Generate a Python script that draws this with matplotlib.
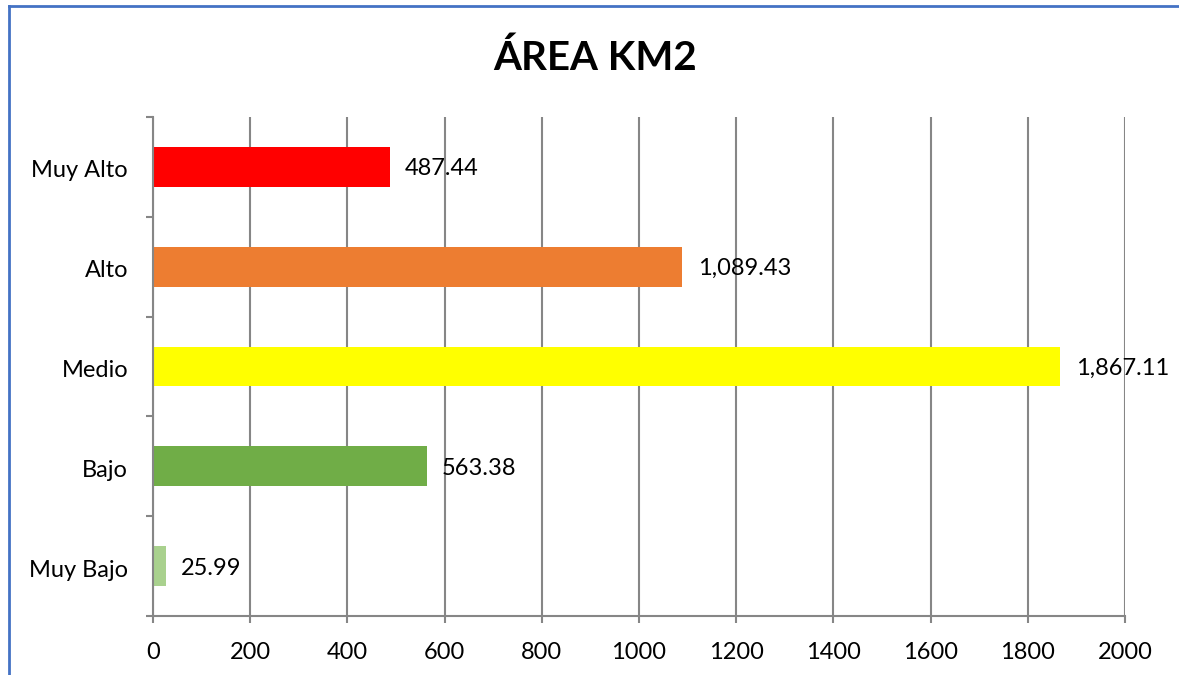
import matplotlib
matplotlib.use("Agg")
import matplotlib.pyplot as plt
from matplotlib.lines import Line2D
from matplotlib.transforms import offset_copy

categories = ["Muy Bajo", "Bajo", "Medio", "Alto", "Muy Alto"]
areas = [25.99, 563.38, 1867.11, 1089.43, 487.44]
bar_colors = ["#A9D18E", "#70AD47", "#FFFF00", "#ED7D31", "#FF0000"]
x_ticks = [0, 200, 400, 600, 800, 1000, 1200, 1400, 1600, 1800, 2000]
title = "ÁREA KM2"

plt.rcParams["font.family"] = ["Lato", "DejaVu Sans"]

W, H = 1179, 675
fig = plt.figure(figsize=(W / 100, H / 100), dpi=100)
ax = fig.add_axes([153 / W, 1 - 616 / H, (1125 - 153) / W, (616 - 117) / H])

grid_col = "#868686"
ypos = list(range(len(categories)))
ax.barh(ypos, areas, height=0.4, color=bar_colors, zorder=2)

for y, v in zip(ypos, areas):
    ax.annotate(f"{v:,.2f}", xy=(v, y), xytext=(11, -1.5), textcoords="offset points",
                ha="left", va="center", fontsize=17, color="#000000", zorder=4)

ax.set_xlim(0, 2000)
ax.set_ylim(-0.5, len(categories) - 0.5)
ax.set_xticks(x_ticks)
ax.set_xticklabels([str(t) for t in x_ticks])
ax.set_yticks(ypos)
ax.set_yticklabels(categories)
ax.set_yticks([i - 0.5 for i in range(len(categories) + 1)], minor=True)

ax.xaxis.grid(True, color=grid_col, linewidth=1.5, zorder=0)
ax.set_axisbelow(True)

for s in ["top", "right"]:
    ax.spines[s].set_visible(False)
for s in ["left", "bottom"]:
    ax.spines[s].set_color(grid_col)
    ax.spines[s].set_linewidth(1.5)

ax.tick_params(axis="x", direction="out", length=5, width=1.5, color=grid_col,
               labelsize=17, pad=14)
ax.tick_params(axis="y", which="major", length=0, labelsize=17, pad=18)
ax.tick_params(axis="y", which="minor", direction="out", length=5, width=1.5, color=grid_col)

# nudge the category labels slightly downward
for lbl in ax.get_yticklabels():
    lbl.set_transform(offset_copy(lbl.get_transform(), fig=fig, x=0, y=-1.5, units="points"))

fig.text(595 / W, 1 - 58 / H, title, ha="center", va="center",
         fontsize=29, fontweight="bold", color="#000000")

border = "#4472C4"
fig.add_artist(Line2D([8.5 / W, 8.5 / W], [0, 1 - 5.5 / H], transform=fig.transFigure,
                      color=border, linewidth=2))
fig.add_artist(Line2D([8.5 / W, 1], [1 - 5.5 / H, 1 - 5.5 / H], transform=fig.transFigure,
                      color=border, linewidth=2))

fig.savefig("out.png", dpi=100, facecolor="white")
